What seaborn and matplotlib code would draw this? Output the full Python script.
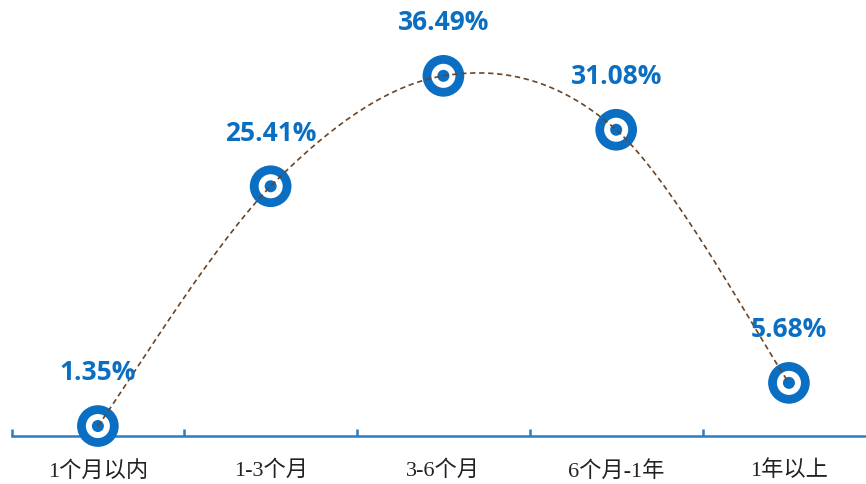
import numpy as np
import pandas as pd
import matplotlib
matplotlib.use("Agg")
import matplotlib.pyplot as plt
import seaborn as sns

# data
categories = ["1个月以内", "1-3个月", "3-6个月", "6个月-1年", "1年以上"]
values = [1.35, 25.41, 36.49, 31.08, 5.68]

blue = "#0a6fc2"
axis_blue = "#2a7cc4"
line_brown = "#6b4526"

sns.set_theme(style="white")
plt.rcParams["font.family"] = ["Open Sans", "Noto Sans CJK SC", "DejaVu Sans"]

df = pd.DataFrame({"pos": np.arange(len(categories)), "val": values, "cat": categories})

fig = plt.figure(figsize=(8.66, 4.85), dpi=100)
ax = fig.add_axes([11.5 / 866, 48 / 485, 1 - 11.5 / 866, 437 / 485])

xlim = (-0.5, 4.446)
ylim = (0.35, 44.2)
ax.set_xlim(*xlim)
ax.set_ylim(*ylim)

# smooth curve (Catmull-Rom in pixel-like space, as the spreadsheet does)
sx = 172.75
sy = 9.96
px = df["pos"].values * sx
py = df["val"].values * sy
P = np.column_stack([px, py])
P = np.vstack([P[0], P, P[-1]])
curve = []
t = np.linspace(0, 1, 40)
for i in range(1, len(P) - 2):
    p0, p1, p2, p3 = P[i - 1], P[i], P[i + 1], P[i + 2]
    b1 = p1 + (p2 - p0) / 6
    b2 = p2 - (p3 - p1) / 6
    seg = ((1 - t) ** 3)[:, None] * p1 + (3 * (1 - t) ** 2 * t)[:, None] * b1 \
        + (3 * (1 - t) * t ** 2)[:, None] * b2 + (t ** 3)[:, None] * p2
    curve.append(seg)
curve = np.vstack(curve)

# markers
sns.scatterplot(data=df, x="pos", y="val", s=900, color=blue, edgecolor="none", ax=ax, zorder=3, clip_on=False)
sns.scatterplot(data=df, x="pos", y="val", s=300, color="white", edgecolor="none", ax=ax, zorder=4, clip_on=False)
sns.scatterplot(data=df, x="pos", y="val", s=75, color=blue, edgecolor="none", ax=ax, zorder=5, clip_on=False)

ax.plot(curve[:, 0] / sx, curve[:, 1] / sy, color=line_brown, lw=1.2,
        linestyle=(0, (3.2, 2.2)), zorder=6, clip_on=False)

for xp, v in zip(df["pos"], df["val"]):
    ax.annotate(f"{v:.2f}%", (xp, v), xytext=(0, 39), textcoords="offset points",
                ha="center", va="center", fontsize=19, fontweight="bold",
                color=blue, zorder=7)

# axis styling
for side in ["top", "right", "left"]:
    ax.spines[side].set_visible(False)
ax.spines["bottom"].set_color(axis_blue)
ax.spines["bottom"].set_linewidth(1.8)

ax.set_xticks(np.arange(-0.5, 4.5, 1.0))
ax.set_xticklabels([])
ax.set_xticks(df["pos"], minor=True)
ax.set_xticklabels(categories, minor=True,
                   fontdict={"family": ["Liberation Serif", "Noto Sans CJK SC"], "size": 16, "color": "#222222"})
ax.tick_params(axis="x", which="major", direction="in", length=5, width=1.8, color=axis_blue, bottom=True)
ax.tick_params(axis="x", which="minor", length=0, pad=17)
ax.set_yticks([])
ax.set_xlabel("")
ax.set_ylabel("")

fig.savefig("out.png", dpi=100)
